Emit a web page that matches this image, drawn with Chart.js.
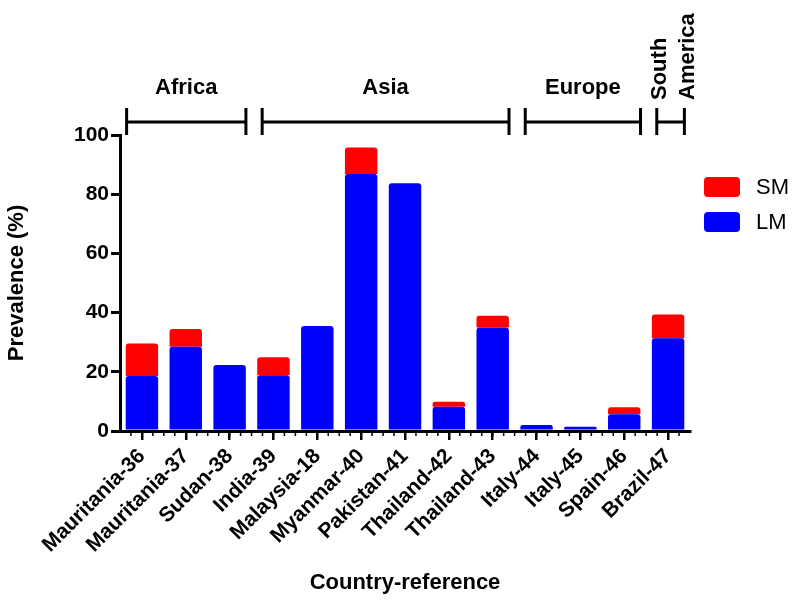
<!DOCTYPE html>
<html>
<head>
<meta charset="utf-8">
<script src="https://cdn.jsdelivr.net/npm/chart.js@4"></script>
<style>
  html, body { margin: 0; padding: 0; background: #fff; }
  #wrap { width: 794px; height: 606px; }
</style>
</head>
<body>
<div id="wrap"><canvas id="prevChart"></canvas></div>
<script>
// categories and values
const countries = ["Mauritania-36", "Mauritania-37", "Sudan-38", "India-39", "Malaysia-18",
    "Myanmar-40", "Pakistan-41", "Thailand-42", "Thailand-43", "Italy-44", "Italy-45",
    "Spain-46", "Brazil-47"];
const lmValues = [18.6, 28.5, 22.3, 18.8, 35.5, 86.8, 83.7, 8.2, 35.0, 2.0, 1.4, 5.7, 31.3];
const smValues = [11.0, 6.0, 0, 6.1, 0, 9.0, 0, 1.7, 3.9, 0, 0, 2.3, 8.1];
const yTicks = [0, 20, 40, 60, 80, 100];

// continent groups (index of first and last country)
const regionNames = ["Africa", "Asia", "Europe", "South America"];
const regionFirst = [0, 3, 9, 12];
const regionLast = [2, 8, 11, 12];

const FONT = "'Liberation Sans', Arial, sans-serif";

// brackets + labels over the bars
const regionPlugin = {
    id: "regions",
    afterDraw(chart) {
        const ctx = chart.ctx;
        const x = chart.scales.x;
        const half = 16.3;
        const yLine = 122;
        ctx.save();
        ctx.strokeStyle = "#000";
        ctx.lineWidth = 3;
        ctx.fillStyle = "#000";
        regionNames.forEach((name, i) => {
            const left = x.getPixelForValue(regionFirst[i]) - half + (i === 0 ? 1 : 5);
            const right = x.getPixelForValue(regionLast[i]) + half;
            ctx.beginPath();
            ctx.moveTo(left, yLine);
            ctx.lineTo(right, yLine);
            ctx.moveTo(left, 108);
            ctx.lineTo(left, 135);
            ctx.moveTo(right, 108);
            ctx.lineTo(right, 135);
            ctx.stroke();

            ctx.font = "bold 22px " + FONT;
            if (name === "South America") {
                const words = name.split(" ");
                ctx.save();
                ctx.translate(left + 3, 100);
                ctx.rotate(-Math.PI / 2);
                ctx.textAlign = "left";
                ctx.textBaseline = "middle";
                ctx.fillText(words[0], 0, 0);
                ctx.fillText(words[1], 0, 28);
                ctx.restore();
            } else {
                ctx.textAlign = "center";
                ctx.textBaseline = "middle";
                ctx.fillText(name, (left + right) / 2, 88);
            }
        });
        ctx.restore();
    }
};

// small ticks between the country ticks on the x axis
const minorTickPlugin = {
    id: "minorTicks",
    afterDraw(chart) {
        const ctx = chart.ctx;
        const x = chart.scales.x;
        const y0 = chart.chartArea.bottom;
        const step = (x.getPixelForValue(1) - x.getPixelForValue(0)) / 4;
        ctx.save();
        ctx.strokeStyle = "#000";
        ctx.lineWidth = 1.5;
        ctx.beginPath();
        for (let px = x.left + step; px < x.right - 1; px += step) {
            ctx.moveTo(px, y0);
            ctx.lineTo(px, y0 + 5);
        }
        ctx.stroke();
        ctx.restore();
    }
};

// legend drawn by hand, SM above LM
const legendPlugin = {
    id: "customLegend",
    afterDraw(chart) {
        const ctx = chart.ctx;
        const items = [chart.data.datasets[1], chart.data.datasets[0]];
        ctx.save();
        items.forEach((ds, i) => {
            const top = 177 + i * 35;
            ctx.fillStyle = ds.backgroundColor;
            ctx.beginPath();
            ctx.roundRect(704, top, 36, 20, 4);
            ctx.fill();
            ctx.fillStyle = "#000";
            ctx.font = "22px " + FONT;
            ctx.textAlign = "left";
            ctx.textBaseline = "middle";
            ctx.fillText(ds.label, 756, top + 11);
        });
        ctx.restore();
    }
};

const chart = new Chart(document.getElementById("prevChart"), {
    type: "bar",
    data: {
        labels: countries,
        datasets: [
            {
                label: "LM",
                data: lmValues,
                backgroundColor: "#0000FF",
                borderRadius: { topLeft: 3, topRight: 3 },
                borderSkipped: false,
                barPercentage: 0.74,
                categoryPercentage: 1.0
            },
            {
                label: "SM",
                data: smValues,
                backgroundColor: "#FF0000",
                borderRadius: { topLeft: 3, topRight: 3 },
                borderSkipped: false,
                barPercentage: 0.74,
                categoryPercentage: 1.0
            }
        ]
    },
    options: {
        responsive: true,
        maintainAspectRatio: false,
        animation: false,
        layout: { padding: { top: 135, right: 104, left: 0, bottom: 0 } },
        plugins: {
            legend: { display: false },
            tooltip: { enabled: false }
        },
        scales: {
            x: {
                stacked: true,
                afterFit(scale) { scale.height = 175; },
                border: { display: true, color: "#000", width: 3 },
                grid: {
                    display: true,
                    drawOnChartArea: false,
                    drawTicks: true,
                    offset: false,
                    tickLength: 9,
                    color: "#000",
                    lineWidth: 2.5
                },
                ticks: {
                    color: "#000",
                    autoSkip: false,
                    maxRotation: 45,
                    minRotation: 45,
                    padding: 4,
                    font: { family: FONT, size: 21, weight: "bold" }
                },
                title: {
                    display: true,
                    text: "Country-reference",
                    color: "#000",
                    padding: { top: 0, bottom: 10 },
                    font: { family: FONT, size: 22, weight: "bold" }
                }
            },
            y: {
                stacked: true,
                min: 0,
                max: 100,
                afterFit(scale) { scale.width = 120; },
                afterBuildTicks(scale) { scale.ticks = yTicks.map(v => ({ value: v })); },
                border: { display: true, color: "#000", width: 3 },
                grid: {
                    display: true,
                    drawOnChartArea: false,
                    drawTicks: true,
                    tickLength: 9,
                    color: "#000",
                    lineWidth: 3
                },
                ticks: {
                    color: "#000",
                    padding: 2,
                    font: { family: FONT, size: 21, weight: "bold" }
                },
                title: {
                    display: true,
                    text: "Prevalence (%)",
                    color: "#000",
                    padding: { top: 4, bottom: 0 },
                    font: { family: FONT, size: 22, weight: "bold" }
                }
            }
        }
    },
    plugins: [regionPlugin, minorTickPlugin, legendPlugin]
});
</script>
</body>
</html>
